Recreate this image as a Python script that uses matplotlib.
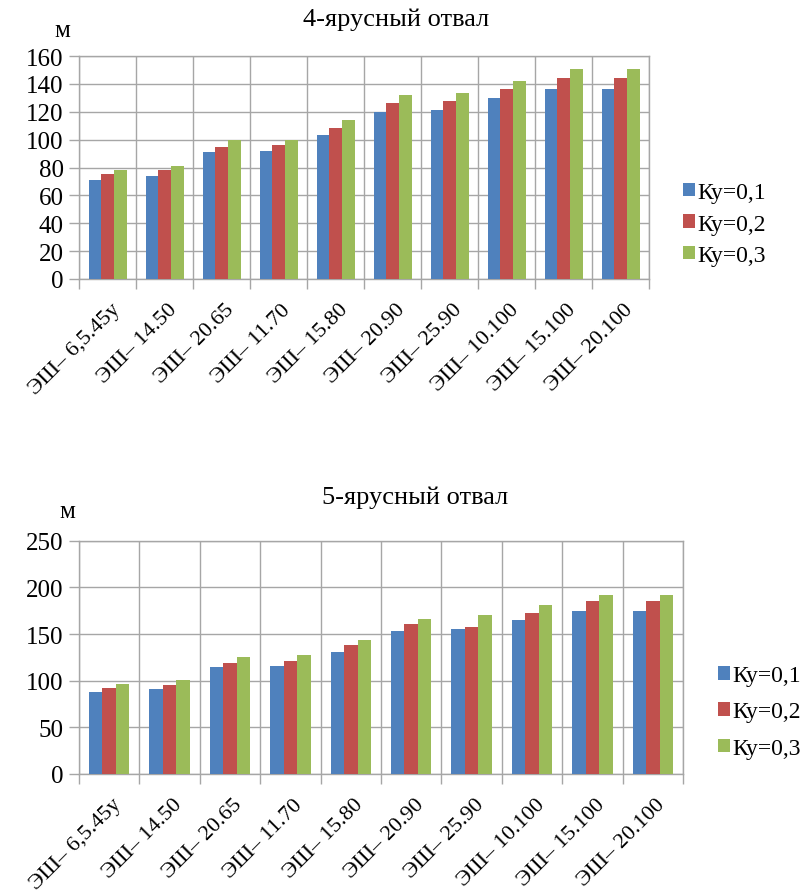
import matplotlib
matplotlib.use("Agg")
import matplotlib.pyplot as plt
import numpy as np

plt.rcParams['font.family'] = ['Liberation Serif', 'DejaVu Serif']

categories = ["ЭШ– 6,5.45у", "ЭШ– 14.50", "ЭШ– 20.65", "ЭШ– 11.70", "ЭШ– 15.80",
              "ЭШ– 20.90", "ЭШ– 25.90", "ЭШ– 10.100", "ЭШ– 15.100", "ЭШ– 20.100"]
series_names = ["Ку=0,1", "Ку=0,2", "Ку=0,3"]

tier4_k01 = [71, 74, 91, 91.5, 103.5, 120, 121.5, 130, 136.5, 136.5]
tier4_k02 = [75, 78, 94.5, 96.5, 108.5, 126, 127.5, 136, 144, 144]
tier4_k03 = [78.5, 81, 100, 100, 114, 132, 133.5, 142, 151, 151]

tier5_k01 = [88, 91.5, 114.5, 115.5, 131, 153.5, 155, 165.5, 175, 175]
tier5_k02 = [92.5, 95, 119, 121, 138, 160.5, 158, 172.5, 185, 185]
tier5_k03 = [96, 101, 125, 127.5, 144, 166, 170.5, 181, 192, 192]

colors = ["#4F81BD", "#C0504D", "#9BBB59"]
grid_color = "#A6A6A6"

W, H = 807, 895
fig = plt.figure(figsize=(W / 100, H / 100), dpi=100)


def draw_panel(rect, series, ymax, ystep, title, title_xy, unit_xy, legend_xy, spacing):
    ax = fig.add_axes(rect)
    n = len(categories)
    x = np.arange(n)
    bw = 1 / 4.5
    for i, vals in enumerate(series):
        ax.bar(x + (i - 1) * bw, vals, width=bw, color=colors[i],
               label=series_names[i], zorder=3)
    ax.set_xlim(-0.5, n - 0.5)
    ax.set_ylim(0, ymax)
    ax.set_yticks(np.arange(0, ymax + 1, ystep))
    ax.set_xticks(x + 0.05)
    ax.set_xticklabels(categories, rotation=45, ha='right', rotation_mode='anchor',
                       fontsize=16)
    ax.set_xticks(np.arange(-0.5, n, 1), minor=True)
    ax.tick_params(axis='x', which='major', length=0, pad=15)
    ax.tick_params(axis='x', which='minor', length=7, color=grid_color, width=1)
    ax.tick_params(axis='y', length=7, color=grid_color, width=1, labelsize=18, pad=4)
    ax.grid(True, axis='y', color=grid_color, linewidth=1, zorder=0)
    ax.grid(True, axis='x', which='minor', color=grid_color, linewidth=1, zorder=0)
    for s in ax.spines.values():
        s.set_color(grid_color)
        s.set_linewidth(1)
    fig.text(title_xy[0] / W, 1 - title_xy[1] / H, title, fontsize=19,
             ha='center', va='center')
    fig.text(unit_xy[0] / W, 1 - unit_xy[1] / H, "м", fontsize=18,
             ha='center', va='center')
    ax.legend(loc='center left', bbox_to_anchor=(legend_xy[0] / W, 1 - legend_xy[1] / H),
              bbox_transform=fig.transFigure, frameon=False,
              fontsize=17, handlelength=0.5, handleheight=0.5,
              handletextpad=0.1, labelspacing=spacing, borderaxespad=0, borderpad=0)
    return ax


draw_panel([79 / W, 1 - 280 / H, 570 / W, 223 / H],
           [tier4_k01, tier4_k02, tier4_k03], 160, 20,
           "4-ярусный отвал", (396, 20), (62, 31), (683, 225), 0.45)

draw_panel([79 / W, 1 - 775 / H, 604 / W, 233.3 / H],
           [tier5_k01, tier5_k02, tier5_k03], 250, 50,
           "5-ярусный отвал", (415, 498), (67, 512), (718, 713), 0.65)

fig.savefig("out.png", dpi=100)
